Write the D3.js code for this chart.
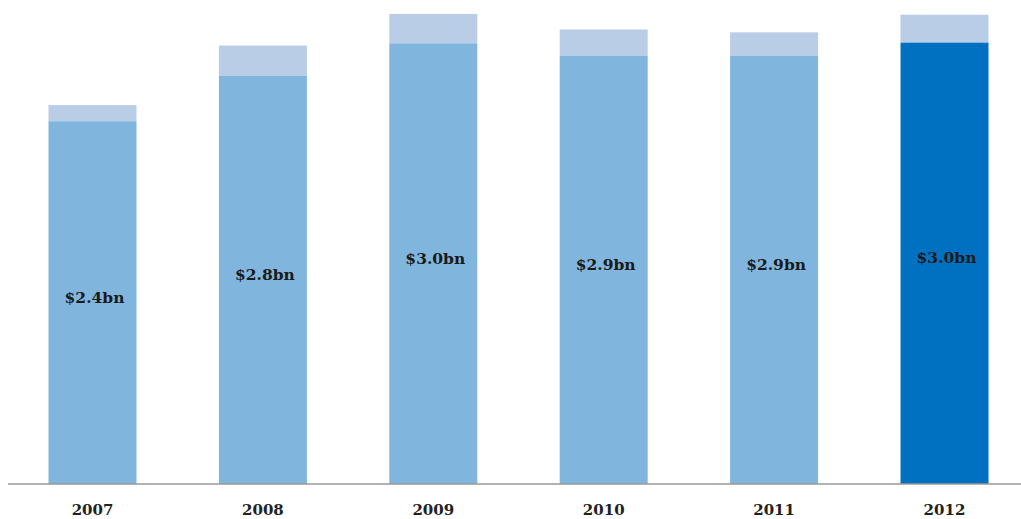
<!DOCTYPE html>
<html>
<head>
<meta charset="utf-8">
<script src="https://cdn.jsdelivr.net/npm/d3@7"></script>
<style>
  body { margin: 0; background: #fff; }
</style>
</head>
<body>
<div id="main-container"></div>
<script>
var width = 1021,
    height = 519

// values, in $bn
var years = ["2007", "2008", "2009", "2010", "2011", "2012"]
var mainValues = [2.47, 2.78, 3.0, 2.915, 2.915, 3.005]
var topValues = [0.11, 0.205, 0.2, 0.18, 0.16, 0.19]
var valueLabels = ["$2.4bn", "$2.8bn", "$3.0bn", "$2.9bn", "$2.9bn", "$3.0bn"]

var data = years.map(function(y, i){
  return { year: y, main: mainValues[i], top: topValues[i], label: valueLabels[i] }
})

var svg = d3.select("#main-container").append("svg")
  .attr("width", width)
  .attr("height", height)

var x = d3.scaleBand()
  .domain(years)
  .range([8, 1029])
  .paddingInner(0.4836)
  .paddingOuter(0.2377)

var y = d3.scaleLinear()
  .domain([0, 3.2])
  .range([484, 14])

var bars = svg.append("g").selectAll("g")
  .data(data)
  .enter()
  .append("g")

// light top segment
bars.append("rect")
  .attr("x", function(d){ return x(d.year) })
  .attr("width", x.bandwidth())
  .attr("y", function(d){ return y(d.main + d.top) })
  .attr("height", function(d){ return y(d.main) - y(d.main + d.top) })
  .attr("fill", "#b9cde6")

// main segment
bars.append("rect")
  .attr("x", function(d){ return x(d.year) })
  .attr("width", x.bandwidth())
  .attr("y", function(d){ return y(d.main) })
  .attr("height", function(d){ return y(0) - y(d.main) })
  .attr("fill", function(d, i){ return i == years.length - 1 ? "#0071c1" : "#80b6de" })

bars.append("text")
  .attr("x", function(d){ return x(d.year) + x.bandwidth() / 2 + 2 })
  .attr("y", function(d){ return (y(d.main) + y(0)) / 2 })
  .attr("text-anchor", "middle")
  .style("font-family", "'DejaVu Serif', serif")
  .style("font-weight", "bold")
  .style("font-size", "15.5px")
  .style("fill", "#1a1a1a")
  .text(function(d){ return d.label })

// baseline
svg.append("line")
  .attr("x1", 8)
  .attr("x2", width)
  .attr("y1", y(0))
  .attr("y2", y(0))
  .attr("stroke", "#999")
  .attr("stroke-width", 1.5)

var xAxis = svg.append("g")
  .attr("transform", "translate(0," + y(0) + ")")
  .call(d3.axisBottom(x).tickSize(0).tickPadding(20))

xAxis.select(".domain").remove()
xAxis.selectAll("text")
  .style("font-family", "'DejaVu Serif', serif")
  .style("font-weight", "bold")
  .style("font-size", "15px")
  .style("fill", "#222")
</script>
</body>
</html>
